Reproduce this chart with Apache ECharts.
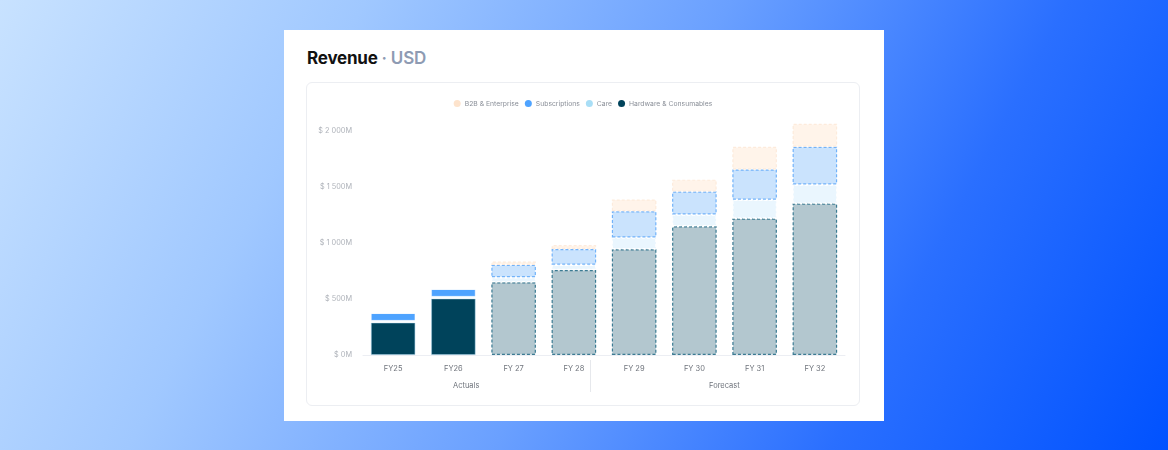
<!DOCTYPE html>
<html>
<head>
    <meta charset="utf-8">
    <title>Revenue · USD</title>
    <script src="https://cdn.jsdelivr.net/npm/echarts@6/dist/echarts.min.js"></script>
    <style>
        html, body { margin: 0; padding: 0; }
        body {
            width: 1168px; height: 450px; overflow: hidden; position: relative;
            background: linear-gradient(118deg, #c8e2ff 0%, #a0c8ff 26%, #6aa0ff 52%, #2a6fff 76%, #0052ff 100%);
            font-family: Inter, "Noto Sans", sans-serif;
        }
        .card { position: absolute; left: 284px; top: 30px; width: 600px; height: 391px; background: #fff; }
        .title { position: absolute; left: 23px; top: 18px; font-size: 17px; font-weight: 700; color: #111; letter-spacing: -0.2px; }
        .title span { color: #8e9bb3; font-weight: 600; }
        .inner {
            position: absolute; left: 22px; top: 52px; width: 554px; height: 324px;
            border: 1px solid #eceef2; border-radius: 6px; box-sizing: border-box;
        }
        #main { width: 100%; height: 100%; }
    </style>
</head>
<body>
<div class="card">
    <div class="title">Revenue <span>· USD</span></div>
    <div class="inner"><div id="main"></div></div>
</div>
<script type="text/javascript">
    // 数据（单位：百万美元）
    var categories = ['FY25', 'FY26', 'FY 27', 'FY 28', 'FY 29', 'FY 30', 'FY 31', 'FY 32'];
    var hardware = [290, 505, 650, 760, 945, 1150, 1220, 1353];
    var care = [15, 15, 45, 47, 105, 105, 168, 170];
    var subscriptions = [70, 70, 110, 140, 235, 205, 270, 338];
    var b2b = [0, 0, 30, 35, 105, 107, 202, 205];
    var yTicks = [0, 500, 1000, 1500, 2000];
    var forecastFrom = 2; // FY 27 起为预测

    var myChart = echarts.init(document.getElementById('main'));

    // 实际值实心，预测值浅色 + 虚线边框
    function buildData(values, solid, light) {
        return values.map(function (v, i) {
            if (i < forecastFrom) {
                return { value: v, itemStyle: { color: solid.color, borderColor: solid.border, borderWidth: 1 } };
            }
            return {
                value: v,
                itemStyle: {
                    color: light.color,
                    borderColor: light.border,
                    borderWidth: 1.2,
                    borderType: [3, 2]
                }
            };
        });
    }

    function makeSeries(name, values, solid, light) {
        return {
            name: name,
            type: 'bar',
            stack: 'rev',
            barWidth: '74%',
            color: solid.color,
            emphasis: { disabled: true },
            data: buildData(values, solid, light)
        };
    }

    var option = {
        animation: false,
        textStyle: { fontFamily: 'Inter, "Noto Sans", sans-serif' },
        legend: {
            top: 12,
            left: 'center',
            icon: 'circle',
            itemWidth: 7,
            itemHeight: 7,
            itemGap: 6,
            textStyle: { fontSize: 6.8, color: '#8a8f98', padding: [0, 0, 0, -1] },
            data: ['B2B & Enterprise', 'Subscriptions', 'Care', 'Hardware & Consumables']
        },
        grid: { left: 56, right: 14, top: 37, bottom: 50 },
        xAxis: {
            type: 'category',
            data: categories,
            axisTick: { show: false },
            axisLine: { lineStyle: { color: '#eceef3', width: 1 } },
            axisLabel: { fontSize: 7.5, color: '#6f747c', margin: 10 }
        },
        yAxis: {
            type: 'value',
            min: 0,
            max: 2100,
            interval: 500,
            splitLine: { show: false },
            axisLabel: {
                fontSize: 7.3,
                color: '#aeb2b9',
                margin: 11,
                showMaxLabel: false,
                formatter: function (v) {
                    if (yTicks.indexOf(v) < 0) return '';
                    return '$ ' + String(v).replace(/\B(?=(\d{3})+(?!\d))/g, ' ') + 'M';
                }
            }
        },
        series: [
            makeSeries('Hardware & Consumables', hardware,
                { color: '#00435b', border: 'rgba(150,200,225,0.5)' },
                { color: '#b3c7cf', border: '#3b7b93' }),
            makeSeries('Care', care,
                { color: '#a9def6', border: '#ffffff' },
                { color: '#eaf6fe', border: '#ffffff' }),
            makeSeries('Subscriptions', subscriptions,
                { color: '#4ea3ff', border: 'rgba(255,255,255,0.4)' },
                { color: '#cae3fd', border: '#72b3fa' }),
            makeSeries('B2B & Enterprise', b2b,
                { color: '#fde3cc', border: '#ffffff' },
                { color: '#fff4ea', border: '#fdebdc' })
        ],
        graphic: [
            { type: 'text', left: 146, top: 299, style: { text: 'Actuals', fontSize: 7.5, fill: '#6f747c', fontFamily: 'Inter' } },
            { type: 'text', left: 402, top: 299, style: { text: 'Forecast', fontSize: 7.5, fill: '#6f747c', fontFamily: 'Inter' } },
            { type: 'line', shape: { x1: 283.5, y1: 277, x2: 283.5, y2: 309 }, style: { stroke: '#e6e8ec', lineWidth: 1 } }
        ]
    };

    myChart.setOption(option);
</script>
</body>
</html>
